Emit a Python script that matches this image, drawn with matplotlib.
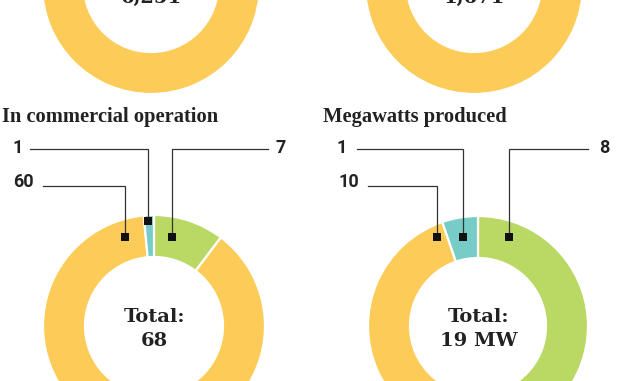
import matplotlib
matplotlib.use("Agg")
import matplotlib.pyplot as plt

# Colours
YELLOW = "#FDCB58"
GREEN = "#B9D864"
TEAL = "#77CCC7"

# Top row (only the lower halves are visible)
top_totals = ["6,251", "1,671"]

# Bottom row
titles = ["In commercial operation", "Megawatts produced"]
comm_values = [7, 60, 1]          # green, yellow, teal (clockwise from 12 o'clock)
mw_values = [8, 10, 1]
slice_colors = [GREEN, YELLOW, TEAL]
bottom_totals = ["68", "19 MW"]

# label text for each slice
comm_labels = ["7", "60", "1"]
mw_labels = ["8", "10", "1"]

W, H = 620, 381
fig = plt.figure(figsize=(W / 100, H / 100), dpi=100)
ax = fig.add_axes([0, 0, 1, 1])

RING = 42

def donut(vals, cols, cx, cy, r):
    # y axis is flipped later, so start at -90 and go counterclockwise
    # which ends up as clockwise from the top on screen
    ax.pie(vals, colors=cols, center=(cx, cy), radius=r,
           startangle=-90, counterclock=True,
           wedgeprops=dict(width=RING, edgecolor="white", linewidth=1.6))

# top donuts, full rings
donut([1], [YELLOW], 151, -15, 109)
donut([1], [YELLOW], 474, -15, 109)
ax.text(151, 3, top_totals[0], ha="center", va="baseline",
        fontsize=14, fontweight="bold", family="DejaVu Serif", color="#222")
ax.text(474, 3, top_totals[1], ha="center", va="baseline",
        fontsize=14, fontweight="bold", family="DejaVu Serif", color="#222")

# bottom donuts
donut(comm_values, slice_colors, 154, 326, 111)
donut(mw_values, slice_colors, 478, 326, 110)

for x, t in zip([154, 479], bottom_totals):
    ax.text(x, 322, "Total:", ha="center", va="baseline", fontsize=14,
            fontweight="bold", family="DejaVu Serif", color="#222")
    ax.text(x, 346, t, ha="center", va="baseline", fontsize=14,
            fontweight="bold", family="DejaVu Serif", color="#222")

ax.text(2, 117, titles[0], ha="left", va="center", fontsize=14.8,
        fontweight="bold", family="Liberation Serif", color="#222")
ax.text(323, 117, titles[1], ha="left", va="center", fontsize=14.8,
        fontweight="bold", family="Liberation Serif", color="#222")

# leader lines: (label x, label y, line start x, line y, marker x, marker y)
comm_leaders = [
    (276, 148, 268, 149, 172, 237),
    (13, 182, 43, 186, 125, 237),
    (12, 148, 30, 149, 148, 221),
]
mw_leaders = [
    (599, 148, 588, 149, 509, 237),
    (338, 182, 368, 186, 437, 237),
    (337, 148, 357, 149, 463, 237),
]

for labels, leaders in [(comm_labels, comm_leaders), (mw_labels, mw_leaders)]:
    for lab, (tx, ty, lx, ly, mx, my) in zip(labels, leaders):
        ax.plot([lx, mx, mx], [ly, ly, my], color="#333", lw=0.9,
                solid_joinstyle="miter")
        ax.plot(mx, my, marker="s", ms=5.5, color="#111", mew=0)
        ax.text(tx, ty, lab, ha="left", va="center", fontsize=13,
                fontweight="bold", family="Roboto", color="#222")

ax.set_xlim(0, W)
ax.set_ylim(H, 0)
ax.set_aspect("auto")
ax.axis("off")

fig.savefig("out.png", dpi=100)
